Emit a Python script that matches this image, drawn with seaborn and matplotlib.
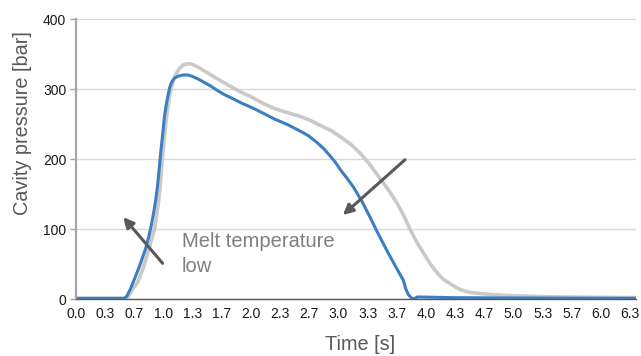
import numpy as np
import pandas as pd
import matplotlib
matplotlib.use("Agg")
import matplotlib.pyplot as plt
import seaborn as sns

# cavity pressure curves
time_high = [0.0, 0.57, 0.60, 0.64, 0.70, 0.77, 0.83, 0.87, 0.90, 0.92, 0.945, 0.965,
             0.98, 1.00, 1.02, 1.04, 1.07, 1.10, 1.14, 1.18, 1.22, 1.27, 1.31, 1.35,
             1.40, 1.45, 1.53, 1.61, 1.72, 1.82, 1.91, 2.00, 2.13, 2.27, 2.42, 2.56,
             2.68, 2.79, 2.91, 3.02, 3.14, 3.25, 3.36, 3.47, 3.57, 3.67, 3.75, 3.82,
             3.90, 3.97, 4.05, 4.13, 4.20, 4.30, 4.38, 4.48, 4.60, 4.79, 5.02, 5.50, 6.40]
press_high = [1, 1, 4, 13, 23, 45, 70, 88, 102, 118, 141, 165,
              190, 218, 243, 265, 290, 307, 321, 329, 334, 336, 336, 334,
              331, 327, 321, 315, 307, 300, 294, 289, 280, 272, 266, 261,
              255, 248, 241, 232, 221, 208, 192, 173, 156, 137, 118, 99,
              80, 66, 50, 37, 28, 20, 14, 10, 8, 6, 4.5, 3, 2]

time_low = [0.0, 0.55, 0.58, 0.62, 0.65, 0.72, 0.79, 0.83, 0.86, 0.89, 0.91, 0.93,
            0.95, 0.97, 0.99, 1.01, 1.03, 1.05, 1.07, 1.09, 1.12, 1.16, 1.22, 1.28,
            1.33, 1.40, 1.47, 1.53, 1.59, 1.68, 1.78, 1.89, 2.00, 2.13, 2.27, 2.42,
            2.56, 2.66, 2.75, 2.83, 2.90, 2.96, 3.02, 3.10, 3.17, 3.27, 3.36, 3.45,
            3.55, 3.65, 3.74, 3.77, 3.80, 3.83, 3.86, 3.90, 4.30, 5.00, 6.40]
press_low = [1, 1, 4, 14, 23, 45, 70, 88, 105, 125, 141, 160,
             185, 212, 235, 260, 277, 290, 302, 309, 315, 318, 320, 320,
             318, 314, 309, 305, 300, 293, 287, 280, 274, 266, 257, 249,
             240, 233, 224, 215, 205, 196, 185, 172, 160, 139, 117, 94,
             70, 47, 27, 14, 6, 2, 0, 3, 2, 1.5, 1]

tick_pos = [k / 3 for k in range(20)]
tick_labels = [f"{t:.1f}" for t in tick_pos]

df_high = pd.DataFrame({"Time": time_high, "Pressure": press_high})
df_low = pd.DataFrame({"Time": time_low, "Pressure": press_low})

sns.set_style("white")
plt.rcParams["font.family"] = ["Liberation Sans", "DejaVu Sans"]

fig = plt.figure(figsize=(6.41, 3.56), dpi=100)
ax = fig.add_axes([0.1186, 0.160, 0.8736, 0.7866])

sns.lineplot(data=df_high, x="Time", y="Pressure", color="#c9c9c9", linewidth=2.6,
             ax=ax, sort=False, solid_joinstyle="round", solid_capstyle="round")
sns.lineplot(data=df_low, x="Time", y="Pressure", color="#3b7fc2", linewidth=2.2,
             ax=ax, sort=False, solid_joinstyle="round", solid_capstyle="round")

ax.set_xlim(0, 6.4)
ax.set_ylim(0, 400)
ax.set_yticks([0, 100, 200, 300, 400])
ax.set_xticks(tick_pos)
ax.set_xticklabels(tick_labels)
ax.grid(axis="y", color="#d9d9d9", linewidth=1)
ax.set_axisbelow(True)

for side in ["top", "right"]:
    ax.spines[side].set_visible(False)
ax.spines["left"].set_color("#a6a6a6")
ax.spines["left"].set_linewidth(1.6)
ax.spines["bottom"].set_color("#595959")
ax.spines["bottom"].set_linewidth(1.0)

ax.tick_params(axis="y", length=4, width=1, color="#a6a6a6", labelsize=10,
               labelcolor="#1a1a1a", left=True, pad=3)
ax.tick_params(axis="x", length=0, labelsize=10, labelcolor="#1a1a1a", pad=6)

ax.set_xlabel("Time [s]", fontsize=14.3, color="#595959")
ax.xaxis.set_label_coords(0.507, -0.128)
ax.set_ylabel("Cavity pressure [bar]", fontsize=14.3, color="#595959")
ax.yaxis.set_label_coords(-0.079, 0.629)

arrow_style = dict(arrowstyle="-|>,head_length=0.6,head_width=0.3", color="#595959",
                   linewidth=2.2, shrinkA=0, shrinkB=0)
ax.annotate("", xy=(0.54, 117), xytext=(0.99, 51), arrowprops=arrow_style)
ax.annotate("", xy=(3.05, 120), xytext=(3.76, 199), arrowprops=arrow_style)

ax.text(1.21, 64, "Melt temperature\nlow", fontsize=14.5, color="#7f7f7f",
        ha="left", va="center", linespacing=1.4)

fig.savefig("out.png", dpi=100)
